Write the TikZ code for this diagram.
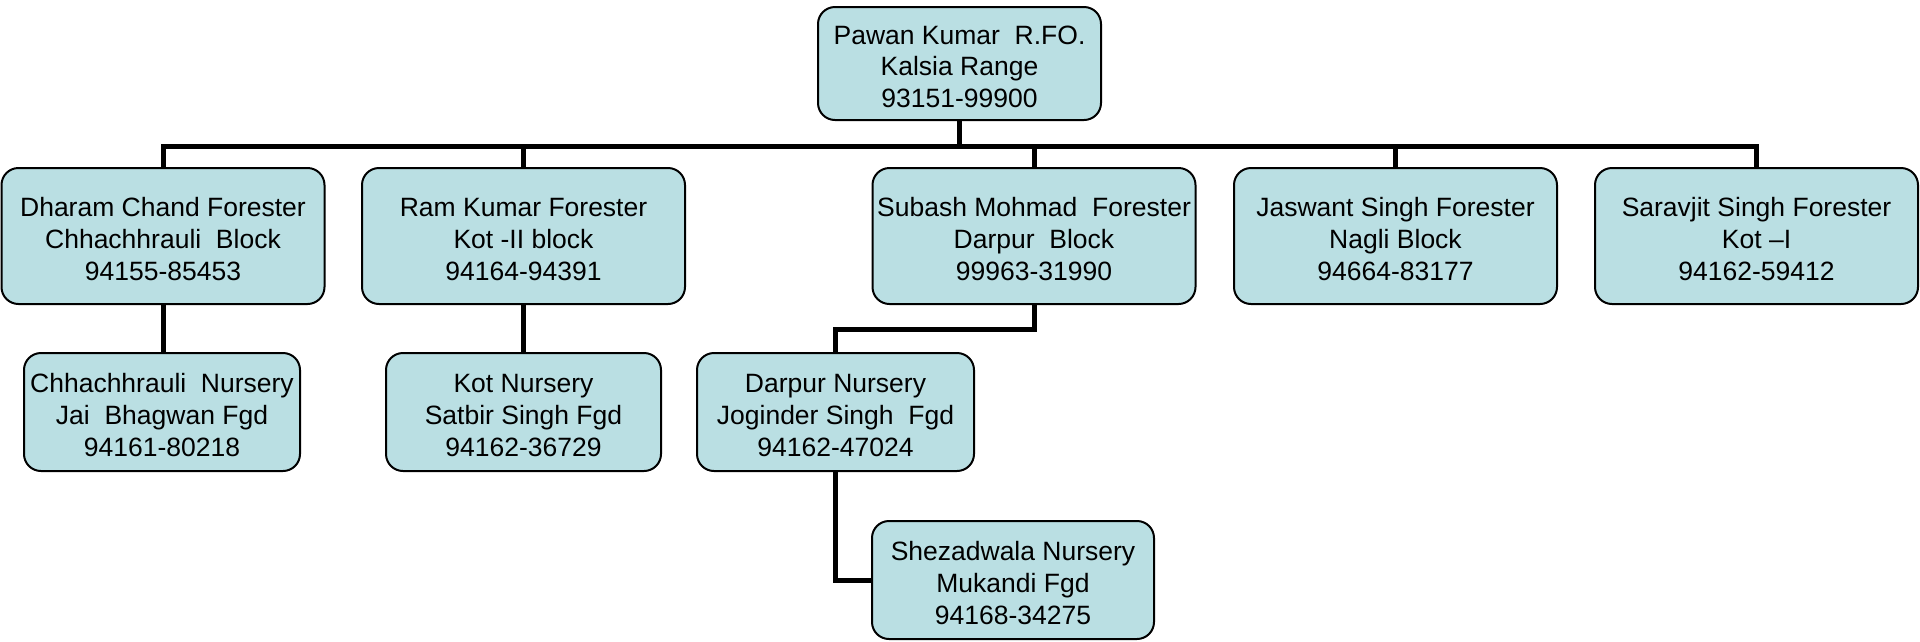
\documentclass[tikz,border=0pt]{standalone}
\usepackage{fontspec}
\setmainfont{Liberation Sans}
\definecolor{boxfill}{RGB}{186,223,227}
\begin{document}
\begin{tikzpicture}[x=1pt,y=-1pt,
  orgbox/.style={draw=black, line width=2pt, fill=boxfill, rounded corners=17pt,
    inner sep=0pt, align=center, text height=88pt, text depth=0pt,
    font=\fontsize{26.5}{31.7}\selectfont},
  conn/.style={draw=black, line width=5pt}]
\useasboundingbox (0,0) rectangle (1920,641);
% top
\node[orgbox, minimum width=283pt, minimum height=113pt] (top) at (959.5,63.5)
  {Pawan Kumar\ \ R.FO.\\Kalsia Range\\93151-99900};
% level 1
\node[orgbox, minimum width=323pt, minimum height=136pt] (dharam) at (163,236)
  {Dharam Chand Forester\\Chhachhrauli\ \ Block\\94155-85453};
\node[orgbox, minimum width=323pt, minimum height=136pt] (ram) at (523.5,236)
  {Ram Kumar Forester\\Kot -II block\\94164-94391};
\node[orgbox, minimum width=323pt, minimum height=136pt] (subash) at (1034,236)
  {Subash Mohmad\ \ Forester\\Darpur\ \ Block\\99963-31990};
\node[orgbox, minimum width=323pt, minimum height=136pt] (jaswant) at (1395.5,236)
  {Jaswant Singh Forester\\Nagli Block\\94664-83177};
\node[orgbox, minimum width=323pt, minimum height=136pt] (saravjit) at (1756.5,236)
  {Saravjit Singh Forester\\Kot --I\\94162-59412};
% level 2
\node[orgbox, minimum width=276pt, minimum height=118pt] (chh) at (162,412)
  {Chhachhrauli\ \ Nursery\\Jai\ \ Bhagwan Fgd\\94161-80218};
\node[orgbox, minimum width=275pt, minimum height=118pt] (kot) at (523.5,412)
  {Kot Nursery\\Satbir Singh Fgd\\94162-36729};
\node[orgbox, minimum width=277pt, minimum height=118pt] (darpur) at (835.5,412)
  {Darpur Nursery\\Joginder Singh\ \ Fgd\\94162-47024};
% level 3
\node[orgbox, minimum width=282pt, minimum height=118pt] (shez) at (1013,580)
  {Shezadwala Nursery\\Mukandi Fgd\\94168-34275};
% connectors
\foreach \c in {dharam,ram,subash,jaswant,saravjit}
  \draw[conn] (top.south) -- ++(0,25) -| (\c.north);
\draw[conn] (dharam.south) -- (dharam.south |- chh.north);
\draw[conn] (ram.south) -- (ram.south |- kot.north);
\draw[conn] (subash.south) -- ++(0,24) -| (darpur.north);
\draw[conn] (darpur.south) |- (shez.west);
\end{tikzpicture}
\end{document}
